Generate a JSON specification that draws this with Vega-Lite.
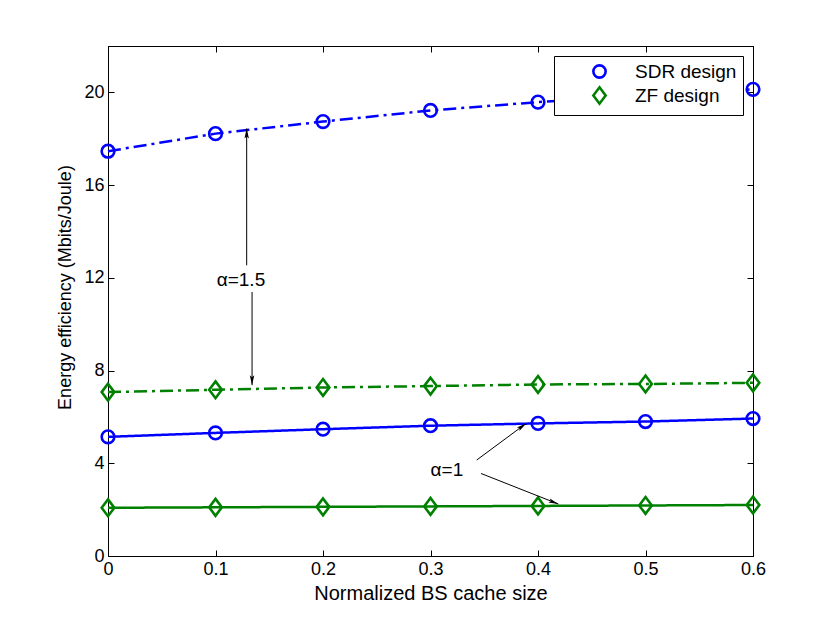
{
  "$schema": "https://vega.github.io/schema/vega-lite/v6.json",
  "width": 645,
  "height": 510,
  "autosize": {"type": "none"},
  "padding": {"left": 108, "top": 46, "right": 77, "bottom": 68},
  "background": "white",
  "config": {
    "font": "Liberation Sans",
    "view": {"stroke": "black", "strokeWidth": 1},
    "axis": {
      "grid": false,
      "domainColor": "black",
      "tickColor": "black",
      "labelColor": "black",
      "titleColor": "black",
      "labelFont": "Liberation Sans",
      "titleFont": "Liberation Sans",
      "labelFontSize": 18,
      "titleFontSize": 19,
      "titleFontWeight": "normal",
      "tickSize": -6,
      "domainWidth": 1,
      "tickWidth": 1,
      "labelFlush": false
    },
    "legend": {
      "labelFont": "Liberation Sans",
      "labelFontSize": 19,
      "labelColor": "black"
    }
  },
  "datasets": {
    "curves": [
      {"x": 0.0, "ee": 17.46, "design": "SDR design", "alpha": "1.5"},
      {"x": 0.1, "ee": 18.22, "design": "SDR design", "alpha": "1.5"},
      {"x": 0.2, "ee": 18.74, "design": "SDR design", "alpha": "1.5"},
      {"x": 0.3, "ee": 19.22, "design": "SDR design", "alpha": "1.5"},
      {"x": 0.4, "ee": 19.58, "design": "SDR design", "alpha": "1.5"},
      {"x": 0.5, "ee": 19.87, "design": "SDR design", "alpha": "1.5"},
      {"x": 0.6, "ee": 20.13, "design": "SDR design", "alpha": "1.5"},
      {"x": 0.0, "ee": 7.07, "design": "ZF design", "alpha": "1.5"},
      {"x": 0.1, "ee": 7.17, "design": "ZF design", "alpha": "1.5"},
      {"x": 0.2, "ee": 7.27, "design": "ZF design", "alpha": "1.5"},
      {"x": 0.3, "ee": 7.33, "design": "ZF design", "alpha": "1.5"},
      {"x": 0.4, "ee": 7.4, "design": "ZF design", "alpha": "1.5"},
      {"x": 0.5, "ee": 7.42, "design": "ZF design", "alpha": "1.5"},
      {"x": 0.6, "ee": 7.47, "design": "ZF design", "alpha": "1.5"},
      {"x": 0.0, "ee": 5.14, "design": "SDR design", "alpha": "1"},
      {"x": 0.1, "ee": 5.31, "design": "SDR design", "alpha": "1"},
      {"x": 0.2, "ee": 5.47, "design": "SDR design", "alpha": "1"},
      {"x": 0.3, "ee": 5.62, "design": "SDR design", "alpha": "1"},
      {"x": 0.4, "ee": 5.72, "design": "SDR design", "alpha": "1"},
      {"x": 0.5, "ee": 5.8, "design": "SDR design", "alpha": "1"},
      {"x": 0.6, "ee": 5.93, "design": "SDR design", "alpha": "1"},
      {"x": 0.0, "ee": 2.08, "design": "ZF design", "alpha": "1"},
      {"x": 0.1, "ee": 2.1, "design": "ZF design", "alpha": "1"},
      {"x": 0.2, "ee": 2.12, "design": "ZF design", "alpha": "1"},
      {"x": 0.3, "ee": 2.14, "design": "ZF design", "alpha": "1"},
      {"x": 0.4, "ee": 2.16, "design": "ZF design", "alpha": "1"},
      {"x": 0.5, "ee": 2.18, "design": "ZF design", "alpha": "1"},
      {"x": 0.6, "ee": 2.2, "design": "ZF design", "alpha": "1"}
    ],
    "arrows": [
      {"x": 0.129, "y": 12.54, "x2": 0.129, "y2": 18.44, "angle": 0},
      {"x": 0.134, "y": 11.39, "x2": 0.134, "y2": 7.37, "angle": 180},
      {"x": 0.343, "y": 4.14, "x2": 0.389, "y2": 5.72, "angle": 54},
      {"x": 0.347, "y": 3.56, "x2": 0.419, "y2": 2.24, "angle": 111}
    ],
    "labels": [
      {"x": 0.1237, "y": 11.9, "text": "α=1.5"},
      {"x": 0.3153, "y": 3.7, "text": "α=1"}
    ]
  },
  "layer": [
    {
      "layer": [
        {
          "data": {"name": "curves"},
          "mark": {"type": "line", "strokeWidth": 2.5, "clip": false},
          "encoding": {
            "x": {"field": "x", "type": "quantitative", "scale": {"domain": [0, 0.6], "nice": false, "zero": false},
                  "axis": {"title": "Normalized BS cache size", "titleFontSize": 20, "values": [0, 0.1, 0.2, 0.3, 0.4, 0.5, 0.6], "format": "~g", "labelPadding": 10, "titlePadding": 5}},
            "y": {"field": "ee", "type": "quantitative", "scale": {"domain": [0, 22], "nice": false},
                  "axis": {"title": "Energy efficiency (Mbits/Joule)", "titleFontSize": 18, "titleY": 241, "values": [0, 4, 8, 12, 16, 20], "format": "~g", "labelPadding": 10, "titlePadding": 9}},
            "color": {"condition": {"test": "datum.design === 'SDR design'", "value": "#0000ff"}, "value": "#008000"},
            "strokeDash": {"field": "alpha", "type": "nominal", "scale": {"domain": ["1", "1.5"], "range": [[1, 0], [13, 5, 3, 5]]}, "legend": null},
            "detail": [{"field": "design", "type": "nominal"}, {"field": "alpha", "type": "nominal"}]
          }
        },
        {
          "data": {"name": "curves"},
          "mark": {"type": "point", "filled": false, "strokeWidth": 2.6, "size": 160, "opacity": 1, "clip": false},
          "encoding": {
            "x": {"field": "x", "type": "quantitative"},
            "y": {"field": "ee", "type": "quantitative"},
            "color": {"field": "design", "type": "nominal", "scale": {"domain": ["SDR design", "ZF design"], "range": ["#0000ff", "#008000"]},
                      "legend": {"title": null, "orient": "top-right", "offset": 10, "strokeColor": "black", "fillColor": "white", "padding": 6, "symbolOffset": 30, "rowPadding": -1, "labelOffset": 26, "symbolStrokeWidth": 2.6, "symbolSize": 151, "cornerRadius": 0}},
            "shape": {"field": "design", "type": "nominal", "scale": {"domain": ["SDR design", "ZF design"], "range": ["circle", "M0,-1.33L1,0L0,1.33L-1,0Z"]},
                      "legend": {"title": null, "orient": "top-right", "offset": 10, "strokeColor": "black", "fillColor": "white", "padding": 6, "symbolOffset": 30, "rowPadding": -1, "labelOffset": 26, "symbolStrokeWidth": 2.6, "symbolSize": 151, "cornerRadius": 0}}
          }
        },
        {
          "data": {"name": "arrows"},
          "mark": {"type": "rule", "color": "black", "strokeWidth": 1},
          "encoding": {
            "x": {"field": "x", "type": "quantitative"},
            "y": {"field": "y", "type": "quantitative"},
            "x2": {"field": "x2"},
            "y2": {"field": "y2"}
          }
        },
        {
          "data": {"name": "arrows"},
          "mark": {"type": "point", "filled": true, "color": "black", "opacity": 1, "size": 100, "shape": "M0,0L0.45,2L0,1.6L-0.45,2Z"},
          "encoding": {
            "x": {"field": "x2", "type": "quantitative"},
            "y": {"field": "y2", "type": "quantitative"},
            "angle": {"field": "angle", "type": "quantitative", "scale": null}
          }
        },
        {
          "data": {"name": "labels"},
          "mark": {"type": "text", "font": "Liberation Sans", "fontSize": 19, "color": "black", "align": "center", "baseline": "middle"},
          "encoding": {
            "x": {"field": "x", "type": "quantitative"},
            "y": {"field": "y", "type": "quantitative"},
            "text": {"field": "text"}
          }
        }
      ]
    },
    {
      "data": {"name": "curves"},
      "mark": {"type": "point", "opacity": 0},
      "encoding": {
        "x": {"field": "x", "type": "quantitative", "axis": {"orient": "top", "labels": false, "title": null, "values": [0, 0.1, 0.2, 0.3, 0.4, 0.5, 0.6]}},
        "y": {"field": "ee", "type": "quantitative", "axis": {"orient": "right", "labels": false, "title": null, "values": [0, 4, 8, 12, 16, 20]}}
      }
    }
  ],
  "resolve": {"axis": {"x": "independent", "y": "independent"}}
}
